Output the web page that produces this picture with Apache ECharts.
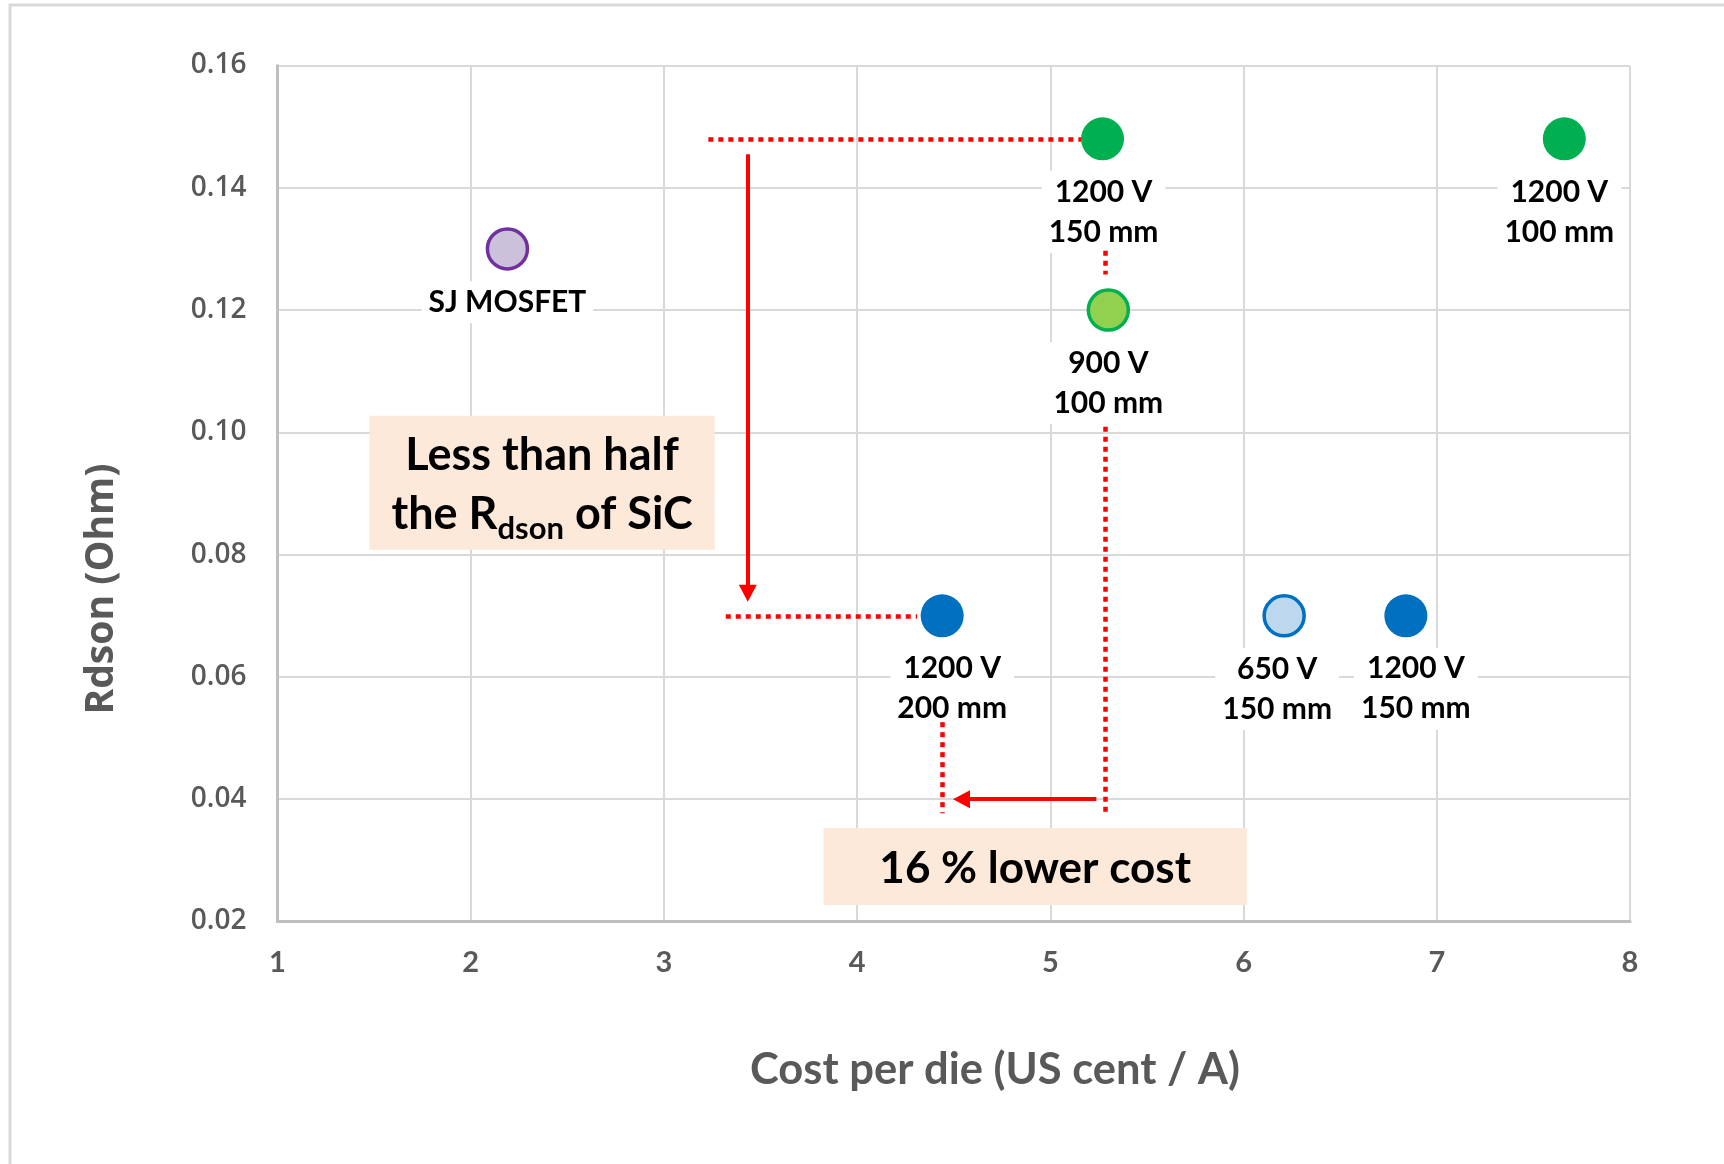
<!DOCTYPE html>
<html>
<head>
<meta charset="utf-8">
<script src="https://cdn.jsdelivr.net/npm/echarts@6/dist/echarts.min.js"></script>
<style>
  html, body { margin: 0; padding: 0; background: #ffffff; }
  #chart { width: 1724px; height: 1164px; }
</style>
</head>
<body>
<div id="chart"></div>
<script>
// Devices: wafer technology, cost per die and on-resistance
const deviceLabels = ['SJ MOSFET', '1200 V\n150 mm', '1200 V\n100 mm', '900 V\n100 mm', '1200 V\n200 mm', '650 V\n150 mm', '1200 V\n150 mm'];
const costPerDie = [2.19, 5.27, 7.66, 5.30, 4.44, 6.21, 6.84];
const rdsonOhm = [0.130, 0.148, 0.148, 0.120, 0.070, 0.070, 0.070];

// Axis ticks
const xTickValues = [1, 2, 3, 4, 5, 6, 7, 8];
const yTickValues = [0.02, 0.04, 0.06, 0.08, 0.10, 0.12, 0.14, 0.16];

// Comparison guides (data coordinates)
const dottedGuides = [
  [[3.23, 0.148], [5.16, 0.148]],
  [[3.32, 0.070], [4.31, 0.070]],
  [[5.283, 0.1297], [5.283, 0.1258]],
  [[5.283, 0.1009], [5.283, 0.0377]],
  [[4.441, 0.0526], [4.441, 0.0377]]
];
const arrowGuides = [
  [[3.434, 0.1455], [3.434, 0.0737]],
  [[5.238, 0.040], [4.54, 0.040]]
];
const noteTexts = ['{t|Less than half}\n{t|the R}{s|dson}{t| of SiC}', '{u|16 % lower cost}'];
const noteCorners = [
  [[1.476, 0.1027], [3.263, 0.0808]],
  [[3.826, 0.0353], [6.017, 0.0227]]
];

// Marker appearance per device
const markerStyles = [
  { color: '#ccc1da', borderColor: '#7030a0', borderWidth: 3.5, size: 40 },
  { color: '#00b050', borderColor: '#00b050', borderWidth: 0, size: 43 },
  { color: '#00b050', borderColor: '#00b050', borderWidth: 0, size: 43 },
  { color: '#92d050', borderColor: '#00b050', borderWidth: 3.5, size: 40 },
  { color: '#0070c0', borderColor: '#0070c0', borderWidth: 0, size: 43 },
  { color: '#bdd7ee', borderColor: '#0070c0', borderWidth: 3.5, size: 40 },
  { color: '#0070c0', borderColor: '#0070c0', borderWidth: 0, size: 43 }
];
const labelShiftX = [0, 1, -5, 0, 10, -7, 10];

const LABEL_FONT = 'Lato, "Open Sans", sans-serif';
const AXIS_GREY = '#595959';
const RED = '#ff0000';

const chart = echarts.init(document.getElementById('chart'), null, { renderer: 'canvas' });

const points = costPerDie.map((x, i) => ({
  value: [x, rdsonOhm[i]],
  name: deviceLabels[i],
  symbolSize: markerStyles[i].size,
  itemStyle: {
    color: markerStyles[i].color,
    borderColor: markerStyles[i].borderColor,
    borderWidth: markerStyles[i].borderWidth,
    opacity: 1
  },
  label: { offset: [labelShiftX[i], 0] }
}));

const option = {
  animation: false,
  backgroundColor: '#ffffff',
  grid: { left: 277.5, right: 94, top: 65.5, bottom: 242.5, containLabel: false },
  xAxis: {
    type: 'value',
    min: xTickValues[0],
    max: xTickValues[xTickValues.length - 1],
    interval: xTickValues[1] - xTickValues[0],
    axisLine: { show: true, onZero: false, lineStyle: { color: '#bfbfbf', width: 3 } },
    axisTick: { show: false },
    splitLine: { show: true, lineStyle: { color: '#d9d9d9', width: 2 } },
    axisLabel: {
      color: AXIS_GREY, fontFamily: LABEL_FONT,
      fontWeight: 'bold', fontSize: 29, margin: 27
    }
  },
  yAxis: {
    type: 'value',
    min: yTickValues[0],
    max: yTickValues[yTickValues.length - 1],
    interval: 0.02,
    axisLine: { show: true, onZero: false, lineStyle: { color: '#bfbfbf', width: 3 } },
    axisTick: { show: false },
    splitLine: { show: true, lineStyle: { color: '#d9d9d9', width: 2 } },
    axisLabel: {
      color: AXIS_GREY, fontFamily: '"Open Sans", sans-serif', fontWeight: 600,
      fontSize: 28, margin: 31,
      formatter: v => v.toFixed(2)
    }
  },
  series: [
    {
      // highlighted comparison boxes and dotted guides
      type: 'scatter',
      data: [],
      z: 1,
      silent: true,
      markArea: {
        silent: true,
        itemStyle: { color: '#fde9d9', borderWidth: 0 },
        label: {
          show: true,
          position: 'inside',
          padding: [5, 0, 0, 0],
          rich: {
            t: { fontFamily: LABEL_FONT, fontWeight: 'bold', fontSize: 45, lineHeight: 59, color: '#000000' },
            s: { fontFamily: LABEL_FONT, fontWeight: 'bold', fontSize: 31, lineHeight: 32, color: '#000000', verticalAlign: 'bottom' },
            u: { fontFamily: LABEL_FONT, fontWeight: 'bold', fontSize: 44, lineHeight: 59, color: '#000000' }
          }
        },
        emphasis: { disabled: true },
        data: noteCorners.map((c, i) => [
          { coord: c[0], label: { formatter: noteTexts[i] } },
          { coord: c[1] }
        ])
      },
      markLine: {
        silent: true,
        symbol: ['none', 'none'],
        label: { show: false },
        lineStyle: { color: RED, width: 4.5, type: [5, 5], cap: 'butt' },
        emphasis: { disabled: true },
        data: dottedGuides.map(seg => [{ coord: seg[0] }, { coord: seg[1] }])
      }
    },
    {
      // solid arrows
      type: 'scatter',
      data: [],
      z: 1,
      silent: true,
      markLine: {
        silent: true,
        symbol: ['none', 'triangle'],
        symbolSize: [18, 17],
        label: { show: false },
        lineStyle: { color: RED, width: 4, type: 'solid' },
        itemStyle: { color: RED },
        emphasis: { disabled: true },
        data: arrowGuides.map(seg => [{ coord: seg[0] }, { coord: seg[1] }])
      }
    },
    {
      type: 'scatter',
      z: 3,
      data: points,
      label: {
        show: true,
        position: 'bottom',
        distance: 10.5,
        formatter: p => p.name,
        fontFamily: LABEL_FONT,
        fontWeight: 'bold',
        fontSize: 30,
        lineHeight: 40,
        color: '#000000',
        align: 'center',
        backgroundColor: '#ffffff',
        padding: [1, 7, 1, 7]
      },
      emphasis: { disabled: true }
    }
  ],
  graphic: [
    {
      type: 'rect',
      silent: true,
      z: -10,
      shape: { x: 10, y: 5, width: 1800, height: 1300 },
      style: { fill: 'none', stroke: '#d9d9d9', lineWidth: 3 }
    },
    {
      type: 'text',
      x: 102, y: 589,
      rotation: Math.PI / 2,
      style: {
        text: 'Rdson (Ohm)',
        font: 'bold 39px "Open Sans", sans-serif',
        fill: AXIS_GREY,
        textAlign: 'center', textVerticalAlign: 'middle',
        align: 'center', verticalAlign: 'middle'
      }
    },
    {
      type: 'text',
      x: 995, y: 1070,
      style: {
        text: 'Cost per die (US cent / A)',
        font: 'bold 43.5px Lato, sans-serif',
        fill: AXIS_GREY,
        textAlign: 'center', textVerticalAlign: 'middle',
        align: 'center', verticalAlign: 'middle'
      }
    }
  ]
};

chart.setOption(option);
</script>
</body>
</html>
